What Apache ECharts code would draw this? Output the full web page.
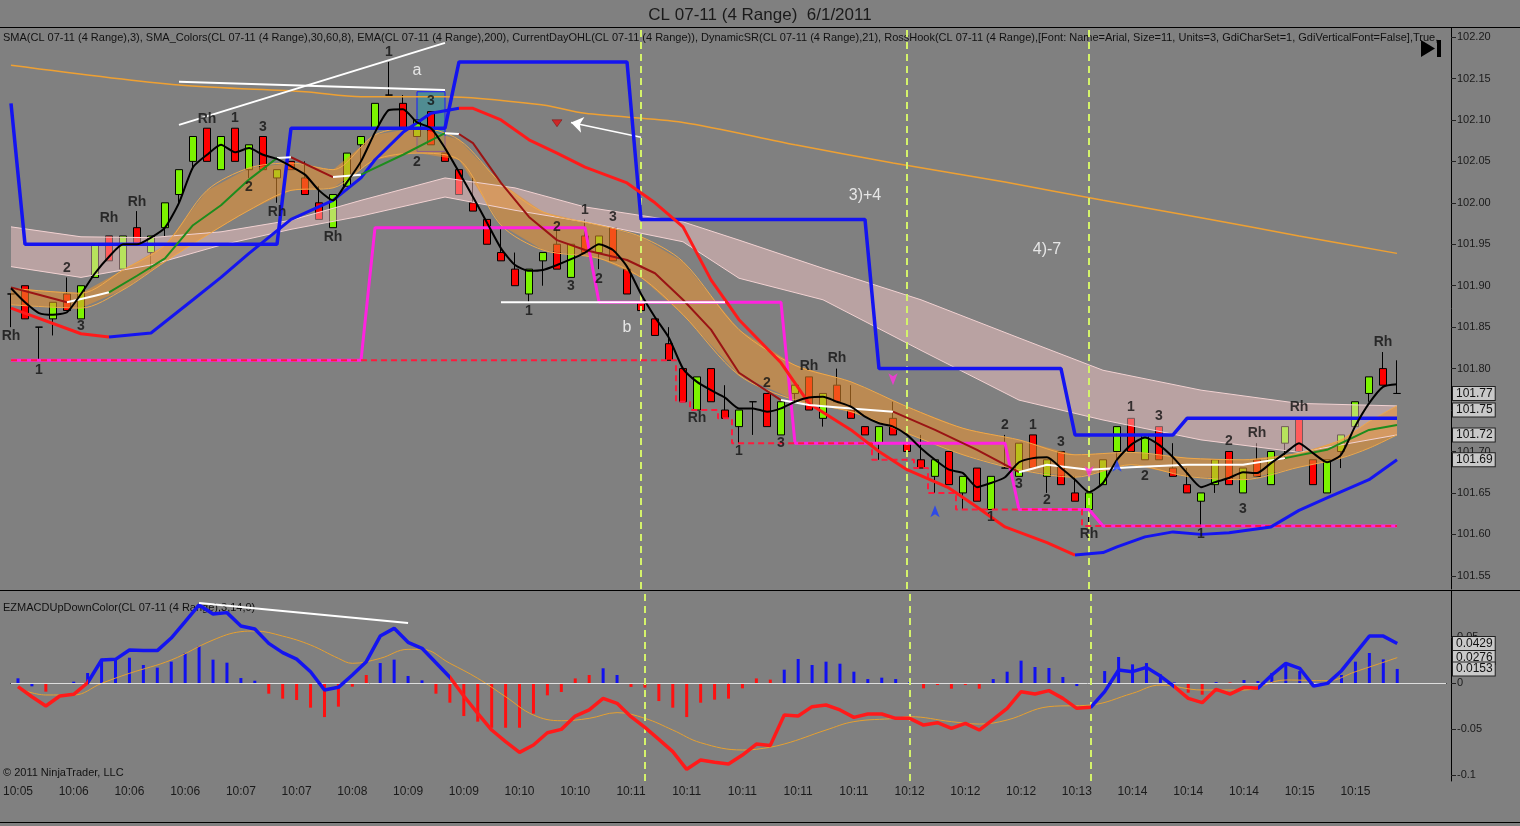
<!DOCTYPE html>
<html>
<head>
<meta charset="utf-8">
<script src="https://cdn.jsdelivr.net/npm/echarts@6/dist/echarts.min.js"></script>
<style>
html,body{margin:0;padding:0;background:#808080;}
#chart{width:1520px;height:826px;}
</style>
</head>
<body>
<div id="chart"></div>
<script>
// tick labels
const timeLabels = ['10:05','10:06','10:06','10:06','10:07','10:07','10:08','10:09','10:09','10:10','10:10','10:11','10:11',
  '10:11','10:11','10:11','10:12','10:12','10:12','10:13','10:14','10:14','10:14','10:15','10:15'];
const priceTicks = [102.20,102.15,102.10,102.05,102.00,101.95,101.90,101.85,101.80,101.75,101.70,101.65,101.60,101.55];
const macdTicks = [0.05,0,-0.05,-0.1];

// 4 range bars
const opens  = [101.89,101.90,101.85,101.86,101.89,101.86,101.91,101.96,101.92,101.97,101.94,101.97,102.01,102.05,102.09,102.04,102.09,102.04,102.08,102.03,
  102.05,102.03,102.00,101.97,102.02,102.07,102.09,102.13,102.12,102.08,102.11,102.06,102.04,102.00,101.98,101.94,101.92,101.89,101.93,101.95,
  101.91,101.96,101.94,101.97,101.92,101.88,101.86,101.83,101.80,101.75,101.80,101.75,101.73,101.76,101.77,101.72,101.77,101.79,101.74,101.78,
  101.75,101.73,101.71,101.74,101.71,101.69,101.67,101.70,101.65,101.68,101.63,101.68,101.67,101.72,101.67,101.70,101.65,101.63,101.66,101.70,
  101.74,101.69,101.73,101.68,101.66,101.64,101.66,101.70,101.65,101.69,101.66,101.71,101.74,101.69,101.65,101.70,101.73,101.77,101.80,101.77];
const closes = [101.89,101.86,101.85,101.88,101.87,101.90,101.95,101.93,101.96,101.95,101.96,102.00,102.04,102.08,102.05,102.08,102.05,102.07,102.04,102.04,
  102.04,102.01,101.98,102.01,102.06,102.08,102.12,102.13,102.09,102.10,102.07,102.05,102.01,101.99,101.95,101.93,101.90,101.92,101.94,101.92,
  101.95,101.94,101.96,101.93,101.89,101.87,101.84,101.81,101.76,101.79,101.76,101.74,101.75,101.76,101.73,101.76,101.78,101.75,101.77,101.76,
  101.74,101.72,101.73,101.72,101.70,101.68,101.69,101.66,101.67,101.64,101.67,101.68,101.71,101.68,101.69,101.66,101.64,101.65,101.69,101.73,
  101.70,101.72,101.69,101.67,101.65,101.65,101.69,101.66,101.68,101.67,101.70,101.73,101.70,101.66,101.69,101.72,101.76,101.79,101.78,101.77];
const lows   = [101.85,101.86,101.81,101.84,101.87,101.86,101.91,101.93,101.92,101.95,101.92,101.96,102.00,102.04,102.05,102.04,102.05,102.03,102.04,102.00,
  102.04,102.01,101.98,101.97,102.02,102.04,102.09,102.13,102.09,102.08,102.07,102.05,102.01,101.99,101.95,101.93,101.90,101.88,101.90,101.92,
  101.91,101.94,101.92,101.93,101.89,101.87,101.84,101.81,101.76,101.75,101.76,101.74,101.71,101.72,101.73,101.72,101.76,101.75,101.73,101.76,
  101.74,101.72,101.69,101.72,101.70,101.68,101.65,101.66,101.63,101.64,101.63,101.68,101.67,101.68,101.65,101.66,101.64,101.61,101.66,101.69,
  101.70,101.69,101.69,101.67,101.65,101.61,101.65,101.66,101.65,101.67,101.66,101.69,101.70,101.66,101.65,101.68,101.73,101.76,101.78,101.77];
const highs  = [101.89,101.90,101.85,101.88,101.91,101.90,101.95,101.96,101.96,101.99,101.96,102.00,102.04,102.08,102.09,102.08,102.09,102.07,102.08,102.04,
  102.05,102.05,102.02,102.01,102.06,102.08,102.12,102.17,102.13,102.10,102.11,102.06,102.04,102.03,101.98,101.97,101.94,101.92,101.94,101.97,
  101.95,101.98,101.96,101.97,101.92,101.88,101.86,101.85,101.80,101.79,101.80,101.78,101.75,101.76,101.77,101.76,101.78,101.79,101.77,101.80,
  101.78,101.73,101.73,101.76,101.71,101.72,101.69,101.70,101.67,101.68,101.67,101.72,101.71,101.72,101.69,101.70,101.67,101.65,101.69,101.73,
  101.74,101.72,101.73,101.71,101.68,101.65,101.69,101.70,101.68,101.71,101.70,101.73,101.74,101.69,101.69,101.72,101.76,101.79,101.82,101.81];

// SMA(3), black
const sma3 = [101.897,101.88,101.867,101.865,101.868,101.89,101.915,101.935,101.95,101.95,101.958,101.97,102.00,102.043,102.058,102.07,102.061,102.066,102.058,102.053,
  102.044,102.034,102.015,102.003,102.025,102.05,102.085,102.112,102.113,102.097,102.09,102.066,102.037,102.007,101.976,101.945,101.925,101.918,101.919,101.925,
  101.932,101.94,101.95,101.943,101.923,101.89,101.862,101.837,101.80,101.784,101.774,101.765,101.752,101.752,101.748,101.752,101.76,101.765,101.766,101.76,
  101.754,101.742,101.734,101.73,101.72,101.704,101.69,101.678,101.674,101.657,101.662,101.669,101.687,101.692,101.693,101.68,101.666,101.651,101.662,101.69,
  101.708,101.717,101.708,101.693,101.674,101.657,101.663,101.668,101.675,101.674,101.686,101.698,101.71,101.698,101.687,101.696,101.73,101.758,101.778,101.781];

// SMA colour line (8): g = rising, b = falling, w = flat (one letter per segment)
const sma8K = [0,2,4,6,7,9,11,13,15,17,19,20,23,25,28,31,32,33,35,37,39,41,44,46,48,50,52,55,57,60,63,66,69,72,74,77,80,84,88,91,94,97,99];
const sma8V = [101.898,101.889,101.88,101.888,101.892,101.912,101.933,101.973,101.997,102.028,102.054,102.055,102.031,102.034,102.058,102.084,102.083,102.072,
  102.024,101.983,101.955,101.943,101.931,101.915,101.883,101.847,101.795,101.762,101.756,101.752,101.748,101.726,101.702,101.675,101.684,101.678,101.681,
  101.684,101.684,101.692,101.702,101.726,101.732];
const sma8State = 'bbwwggggggwbwggwbbbbbbbbbbbwwwbbbwwwwwwggg';

// EMA(200)
const emaK = [0,12,21,25,31,38,41,48,56,63,71,78,85,92,99];
const emaV = [102.166,102.142,102.134,102.128,102.128,102.118,102.108,102.097,102.07,102.048,102.025,102.003,101.982,101.96,101.939];

// SMA_Colors band (30/60)
const oBandK  = [0,5,8,11,14,17,20,23,26,29,32,35,38,42,45,48,52,56,60,64,68,72,76,80,84,88,92,95,97,99];
const oBandUp = [101.897,101.891,101.919,101.949,102.015,102.042,102.048,102.04,102.082,102.091,102.076,102.024,101.989,101.973,101.959,101.929,
  101.847,101.804,101.784,101.754,101.728,101.714,101.696,101.699,101.692,101.69,101.698,101.714,101.736,101.755];
const oBandLo = [101.877,101.873,101.895,101.929,101.961,101.991,102.015,102.018,102.052,102.06,102.052,101.973,101.943,101.933,101.91,101.865,
  101.792,101.762,101.748,101.722,101.696,101.678,101.669,101.684,101.67,101.666,101.681,101.692,101.704,101.72];

// pink envelope
const pBandK  = [0,5,10,15,20,25,31,36,41,48,52,58,65,72,78,85,92,99];
const pBandUp = [101.971,101.959,101.958,101.965,101.979,102.003,102.03,102.018,101.995,101.977,101.955,101.921,101.883,101.837,101.798,101.774,101.758,101.755];
const pBandLo = [101.923,101.91,101.925,101.949,101.968,101.984,102.007,101.991,101.977,101.953,101.909,101.883,101.822,101.762,101.738,101.714,101.699,101.72];

// thick trend line: r = falling, u = rising (one letter per segment)
const trendK = [0,5,7,10,13,15,17,20,23,25,26,28,30,32,33,35,37,39,41,44,46,48,50,52,55,57,60,62,64,67,69,71,74,76,78,79,81,83,85,87,90,92,94,97,99];
const trendV = [101.873,101.842,101.838,101.843,101.883,101.91,101.939,101.98,102.003,102.03,102.052,102.085,102.108,102.114,102.114,102.10,102.076,
  102.06,102.043,102.024,102.00,101.971,101.907,101.859,101.807,101.758,101.726,101.70,101.678,101.656,101.633,101.609,101.59,101.575,101.578,101.585,
  101.597,101.603,101.60,101.602,101.609,101.629,101.644,101.666,101.69];
const trendState = 'rruuuuuuuuuuurrrrrrrrrrrrrrrrrrrruuuuuuuuuuu';

// DynamicSR steps and current day low (bar where the level changes)
const srUpK = [0,1,19,20,31,32,44,45,61,62,75,76,83,84,99];
const srUpV = [102.12,101.95,101.95,102.09,102.09,102.17,102.17,101.98,101.98,101.80,101.80,101.72,101.72,101.74,101.74];
const srLoK = [0,25,26,41,42,55,56,71,72,77,78,99];
const srLoV = [101.81,101.81,101.97,101.97,101.88,101.88,101.71,101.71,101.63,101.63,101.61,101.61];
const dayLowK = [0,48,49,51,52,62,65,66,68,77,99];
const dayLowV = [101.81,101.76,101.75,101.74,101.71,101.69,101.68,101.65,101.63,101.61,101.61];

// RossHook labels
const hookText = ['Rh','1','2','3','Rh','Rh','Rh','1','2','3','Rh','Rh','1','3','2','2','1','3','2','3','1','Rh','1','2','3','Rh','Rh',
  '2','1','3','1','2','3','Rh','1','3','2','2','3','1','Rh','Rh','Rh'];
const hookK = [0,2,4,5,7,9,14,16,17,18,19,23,27,30,29,39,41,43,42,40,37,49,52,54,55,57,59,71,73,72,70,74,75,77,80,82,81,87,88,85,89,92,98];
const hookPrice = [101.839,101.798,101.921,101.851,101.982,102.001,102.101,102.102,102.019,102.091,101.989,101.959,102.182,102.123,102.049,
  101.971,101.991,101.983,101.908,101.90,101.869,101.74,101.701,101.783,101.71,101.803,101.813,101.732,101.732,101.661,101.621,101.641,101.711,
  101.60,101.753,101.743,101.67,101.713,101.631,101.60,101.722,101.753,101.832];
const noteText = ['a','b','3)+4','4)-7'];
const noteK = [29,44,61,74];
const notePrice = [102.16,101.849,102.009,101.943];
const sessionMarks = [45,64,77];
const priceTags = [101.77,101.75,101.72,101.69];
const macdTags = [0.0429,0.0276,0.0153];

// EZMACD
const macdHist = [0.0051,-0.0036,-0.0094,0,0.0014,0.0109,0.0264,0.0257,0.0275,0.0196,0.0167,0.0232,0.0326,0.0402,0.0254,0.0221,0.0054,0.0025,-0.0116,-0.017,
  -0.0185,-0.0268,-0.037,-0.0257,-0.004,0.0087,0.0217,0.0254,0.0076,0.0029,-0.0116,-0.0214,-0.0359,-0.042,-0.0486,-0.0486,-0.0486,-0.0333,-0.0134,-0.0098,
  0.005,0.0087,0.016,0.0087,-0.0043,-0.005,-0.0196,-0.0268,-0.037,-0.0214,-0.0181,-0.017,-0.0058,0.005,0.0037,0.0145,0.0261,0.0196,0.0232,0.021,
  0.0123,0.0043,0.0058,0.0043,0.001,-0.0058,-0.0022,-0.0062,-0.0022,-0.0062,0.0043,0.0123,0.0243,0.0174,0.0163,0.0065,-0.0033,0,0.013,0.0283,
  0.0203,0.0217,0.0094,0.0007,-0.0105,-0.0127,0.001,0.0007,0.0033,0.0022,0.0109,0.0196,0.013,0,0.001,0.0087,0.0232,0.0326,0.0257,0.0153];
const macdHistDir = 'uudduuuuuuuuuuuuuuddddddddu uuuddddddddddddu uddddddddddduuuuuuuuuuddddduuuuuuuuuuuuuudduduuuuuuuuuuuu'.replace(/ /g,'');
const macdLine = [-0.004,-0.0149,-0.025,-0.0141,-0.0123,0.0003,0.025,0.0257,0.0359,0.0352,0.0352,0.0489,0.0667,0.0848,0.075,0.0765,0.062,0.0587,0.0431,0.033,
  0.026,0.0123,-0.0076,-0.0047,0.0087,0.0232,0.051,0.0594,0.0442,0.0377,0.0221,0.0062,-0.0141,-0.033,-0.0511,-0.0638,-0.0754,-0.0674,-0.054,-0.0504,
  -0.0359,-0.0293,-0.0167,-0.0221,-0.0366,-0.0482,-0.0612,-0.0746,-0.0938,-0.0837,-0.0862,-0.088,-0.0783,-0.0663,-0.0678,-0.0348,-0.0359,-0.0257,-0.0239,-0.0293,
  -0.0373,-0.0337,-0.0337,-0.0384,-0.0384,-0.0457,-0.0431,-0.0493,-0.0438,-0.0511,-0.0395,-0.0275,-0.0094,-0.012,-0.0083,-0.0167,-0.0275,-0.0264,-0.0094,0.0141,
  0.0123,0.017,0.0076,-0.004,-0.0167,-0.0214,-0.0069,-0.012,-0.0047,-0.0058,0.0087,0.0214,0.016,-0.0033,-0.0004,0.0134,0.0322,0.051,0.051,0.0429];
const signalK = [0,2,4,6,8,11,14,16,17,19,21,23,24,26,28,29,31,33,35,37,39,41,43,45,47,49,52,53,55,58,60,63,64,67,69,71,74,77,80,82,85,88,91,94,96,99];
const signalV = [-0.0058,-0.013,-0.013,-0.0004,0.0105,0.025,0.0467,0.0558,0.0565,0.051,0.0413,0.0268,0.0214,0.0268,0.0366,0.0366,0.0214,0.0051,-0.0149,
  -0.0348,-0.041,-0.0384,-0.0322,-0.0384,-0.0511,-0.0649,-0.0728,-0.072,-0.0663,-0.0511,-0.042,-0.0384,-0.0366,-0.042,-0.0446,-0.0402,-0.0257,-0.0239,
  -0.0112,-0.0022,-0.0076,-0.0076,0.0033,0.0025,0.0123,0.0276];

const FONT = 'Liberation Sans, Arial, sans-serif';
const RED = '#ff1a1a', BLUE = '#1414f0', WHITE = '#ffffff', GREEN = '#1e8c1e', BROWN = '#9a1414';
const nBands = 103;
const categories = [];
for (let i = 0; i < nBands; i++) {
    categories.push(i % 4 === 0 && timeLabels[i / 4] ? timeLabels[i / 4] : '');
}
const zip = (ks, vs) => ks.map((k, i) => [k, vs[i]]);

function band(ks, up, lo, fill, z) {
    return {
        type: 'custom', xAxisIndex: 0, yAxisIndex: 0, z: z, silent: true, data: [0],
        renderItem: function (params, api) {
            const pts = [];
            for (let i = 0; i < ks.length; i++) pts.push(api.coord([ks[i], up[i]]));
            for (let i = ks.length - 1; i >= 0; i--) pts.push(api.coord([ks[i], lo[i]]));
            return {type: 'polygon', shape: {points: pts}, style: {fill: fill}};
        }
    };
}
function line(data, color, width, z, extra) {
    return Object.assign({
        type: 'line', xAxisIndex: 0, yAxisIndex: 0, data: data, showSymbol: false, symbol: 'none',
        silent: true, z: z, lineStyle: {color: color, width: width}
    }, extra || {});
}
// split a polyline into same-colour runs, sharing the joint points
function colouredRuns(ks, vs, states, colours, width, z) {
    const out = [];
    let start = 0;
    for (let i = 1; i <= states.length; i++) {
        if (i === states.length || states[i] !== states[start]) {
            const pts = [];
            for (let j = start; j <= i; j++) pts.push([ks[j], vs[j]]);
            out.push(line(pts, colours[states[start]], width, z));
            start = i;
        }
    }
    return out;
}
// level held until the bar where it changes
function levelPoints(ks, vs) {
    const pts = [];
    for (let i = 0; i < ks.length; i++) {
        if (i > 0 && ks[i] - 1 > ks[i - 1]) pts.push([ks[i] - 1, vs[i - 1]]);
        pts.push([ks[i], vs[i]]);
    }
    return pts;
}

const series = [];
// bars first, the indicator bands are painted over them
series.push({
    type: 'candlestick', xAxisIndex: 0, yAxisIndex: 0, z: 2, silent: true, barWidth: 8,
    data: opens.map((o, i) => [o, closes[i], lows[i], highs[i]]),
    itemStyle: {color: '#7cf400', color0: '#ff0000', borderColor: '#000', borderColor0: '#000', borderWidth: 1},
    markArea: {
        silent: true,
        itemStyle: {color: 'rgba(40,150,160,0.55)', borderColor: '#1a1aff', borderWidth: 1},
        data: [[{coord: [29, 102.134]}, {coord: [31, 102.062]}]]
    },
    markLine: {
        silent: true, symbol: 'none', label: {show: false},
        lineStyle: {color: '#d4f26a', width: 2, type: [7, 5]},
        data: sessionMarks.map(k => ({xAxis: k}))
    }
});
series.push(band(pBandK, pBandUp, pBandLo, 'rgba(255,205,205,0.45)', 3));
series.push(line(zip(pBandK, pBandUp), '#f2d2d2', 1, 3));
series.push(line(zip(pBandK, pBandLo), '#f2d2d2', 1, 3));
series.push(band(oBandK, oBandUp, oBandLo, 'rgba(235,145,45,0.55)', 3));
series.push(line(zip(oBandK, oBandUp), '#f0a848', 1, 3, {smooth: 0.3}));
series.push(line(zip(oBandK, oBandLo), '#f0a848', 1, 3, {smooth: 0.3}));
series.push(line(zip(emaK, emaV), '#eea032', 1.5, 4, {smooth: 0.3}));
series.push(line(zip(srLoK, srLoV), '#ff22e0', 3, 5));
series.push(line(levelPoints(dayLowK, dayLowV), '#ff1a3c', 2, 5, {step: 'middle', lineStyle: {color: '#ff1a3c', width: 2, type: [6, 4]}}));
series.push(line(zip(srUpK, srUpV), BLUE, 3.5, 5));
colouredRuns(trendK, trendV, trendState, {r: RED, u: BLUE}, 3, 5).forEach(s => series.push(s));
colouredRuns(sma8K, sma8V, sma8State, {g: GREEN, b: BROWN, w: WHITE}, 2, 6).forEach(s => series.push(s));
series.push(line(sma3.map((v, i) => [i, v]), '#000', 2, 7, {smooth: 0.2}));

// hand-drawn lines
series.push(line([[12, 102.094], [31, 102.193]], '#fff', 2, 8));
series.push(line([[12, 102.146], [31, 102.136]], '#fff', 2, 8));
series.push(line([[35, 101.88], [51, 101.88]], '#fff', 2, 8));
series.push({
    type: 'line', xAxisIndex: 0, yAxisIndex: 0, data: [], silent: true, z: 8,
    markLine: {
        silent: true, label: {show: false}, symbolSize: 12,
        lineStyle: {color: '#fff', width: 1.5, type: 'solid'},
        data: [[{coord: [45, 102.079], symbol: 'none'}, {coord: [40, 102.097], symbol: 'arrow'}]]
    }
});
series.push({
    type: 'scatter', xAxisIndex: 0, yAxisIndex: 0, z: 8, silent: true,
    symbol: 'triangle', symbolRotate: 180, symbolSize: [10, 7],
    itemStyle: {color: '#e01010', borderColor: '#600', borderWidth: 0.5},
    data: [[39, 102.096]]
});
series.push({
    type: 'scatter', xAxisIndex: 0, yAxisIndex: 0, z: 8, silent: true,
    symbol: 'arrow', symbolRotate: 180, symbolSize: [7, 12], itemStyle: {color: '#ff30e0'},
    data: [[63, 101.78], [77, 101.668]]
});
series.push({
    type: 'scatter', xAxisIndex: 0, yAxisIndex: 0, z: 8, silent: true,
    symbol: 'arrow', symbolSize: [7, 12], itemStyle: {color: '#1a3cff'},
    data: [[66, 101.635], [79, 101.69]]
});
series.push({
    type: 'scatter', xAxisIndex: 0, yAxisIndex: 0, z: 9, silent: true, symbolSize: 1,
    itemStyle: {color: 'rgba(0,0,0,0)'},
    data: hookText.map((t, i) => [hookK[i], hookPrice[i], t]),
    label: {
        show: true, position: 'inside', fontFamily: FONT, fontSize: 14, fontWeight: 'bold',
        formatter: p => p.value[2],
        color: '#111'
    }
});
series.push({
    type: 'scatter', xAxisIndex: 0, yAxisIndex: 0, z: 9, silent: true, symbolSize: 1,
    itemStyle: {color: 'rgba(0,0,0,0)'},
    data: noteText.map((t, i) => [noteK[i], notePrice[i], t]),
    label: {show: true, position: 'inside', fontFamily: FONT, fontSize: 16, color: '#fff', formatter: p => p.value[2]}
});

const tagLabel = digits => ({
    show: true, position: 'end', distance: 7, formatter: p => Number(p.value).toFixed(digits),
    fontFamily: FONT, fontSize: 12, color: '#111', opacity: 1,
    backgroundColor: '#c9c9c9', borderColor: '#222', borderWidth: 1, padding: [1, 2, 0, 3]
});
series.push({
    type: 'line', xAxisIndex: 0, yAxisIndex: 0, data: [[0, null]], silent: true, z: 10, clip: false, symbol: 'none',
    markLine: {
        silent: true, symbol: 'none', precision: 2,
        lineStyle: {color: 'rgba(0,0,0,0)', width: 0},
        label: tagLabel(2),
        data: priceTags.map(v => ({yAxis: v}))
    }
});

// MACD panel
series.push({
    type: 'bar', xAxisIndex: 1, yAxisIndex: 1, barWidth: 3, silent: true, z: 3,
    data: macdHist.map((v, i) => ({value: v, itemStyle: {color: macdHistDir[i] === 'u' ? '#1010f0' : '#ff1010'}})),
    markLine: {
        silent: true, symbol: 'none', label: {show: false},
        data: [{yAxis: 0, lineStyle: {color: '#dedede', width: 1, type: 'solid'}}]
            .concat(sessionMarks.map(k => ({xAxis: k, lineStyle: {color: '#d4f26a', width: 2, type: [7, 5]}})))
    }
});
series.push({
    type: 'line', xAxisIndex: 1, yAxisIndex: 1, data: zip(signalK, signalV), smooth: 0.4, symbol: 'none', silent: true, z: 4,
    lineStyle: {color: '#e6a030', width: 1}
});
const macdIdx = series.length;
series.push({
    type: 'line', xAxisIndex: 1, yAxisIndex: 1, data: macdLine, symbol: 'none', silent: true, z: 5,
    lineStyle: {width: 3.5}
});
series.push({
    type: 'line', xAxisIndex: 1, yAxisIndex: 1, data: [[13, 0.087], [28, 0.0652]], symbol: 'none', silent: true, z: 6,
    lineStyle: {color: '#fff', width: 2}
});
series.push({
    type: 'line', xAxisIndex: 1, yAxisIndex: 1, data: [[0, null]], silent: true, z: 10, clip: false, symbol: 'none',
    markLine: {
        silent: true, symbol: 'none', precision: 4,
        lineStyle: {color: 'rgba(0,0,0,0)', width: 0},
        label: tagLabel(4),
        data: macdTags.map(v => ({yAxis: v}))
    }
});

const chart = echarts.init(document.getElementById('chart'));
chart.setOption({
    backgroundColor: '#808080',
    animation: false,
    textStyle: {fontFamily: FONT},
    title: {
        text: 'CL 07-11 (4 Range)  6/1/2011', left: 'center', top: 2,
        textStyle: {fontFamily: FONT, fontSize: 17, fontWeight: 'normal', color: '#1a1a1a'}
    },
    grid: [
        {left: 4, top: 28, width: 1442, height: 561},
        {left: 4, top: 591, width: 1442, height: 190}
    ],
    xAxis: [
        {type: 'category', gridIndex: 0, data: categories, axisLine: {show: false}, axisTick: {show: false}, axisLabel: {show: false}},
        {
            type: 'category', gridIndex: 1, data: categories,
            axisLine: {show: true, lineStyle: {color: '#000', width: 1}},
            axisTick: {show: false},
            axisLabel: {interval: 3, color: '#1a1a1a', fontSize: 12, fontFamily: FONT, margin: 5}
        }
    ],
    yAxis: [
        {
            type: 'value', gridIndex: 0, position: 'right', offset: 5,
            min: 101.5341, max: 102.2109, splitLine: {show: false},
            axisLine: {show: true, lineStyle: {color: '#000'}},
            axisTick: {show: true, length: 5, lineStyle: {color: '#222'}, customValues: priceTicks},
            axisLabel: {color: '#1a1a1a', fontSize: 11, fontFamily: FONT, margin: 6, customValues: priceTicks, formatter: v => v.toFixed(2)}
        },
        {
            type: 'value', gridIndex: 1, position: 'right', offset: 5,
            min: -0.1065, max: 0.1, splitLine: {show: false},
            axisLine: {show: true, lineStyle: {color: '#000'}},
            axisTick: {show: true, length: 5, lineStyle: {color: '#222'}, customValues: macdTicks},
            axisLabel: {color: '#1a1a1a', fontSize: 11, fontFamily: FONT, margin: 6, customValues: macdTicks, formatter: v => (v === 0 ? '0' : String(v))}
        }
    ],
    visualMap: [
        {
            type: 'piecewise', show: false, seriesIndex: macdIdx, dimension: 0,
            pieces: [{lt: 5, color: RED}, {gte: 5, lt: 31, color: BLUE}, {gte: 31, lt: 77, color: RED},
                {gte: 77, lt: 82.5, color: BLUE}, {gte: 82.5, lt: 89, color: RED}, {gte: 89, color: BLUE}]
        }
    ],
    graphic: [
        {type: 'line', shape: {x1: 0, y1: 27.5, x2: 1520, y2: 27.5}, style: {stroke: '#000', lineWidth: 1}, silent: true},
        {type: 'line', shape: {x1: 0, y1: 590.5, x2: 1520, y2: 590.5}, style: {stroke: '#000', lineWidth: 1}, silent: true},
        {type: 'line', shape: {x1: 0, y1: 822.5, x2: 1520, y2: 822.5}, style: {stroke: '#000', lineWidth: 1}, silent: true},
        {
            type: 'text', left: 3, top: 32, silent: true,
            style: {
                text: 'SMA(CL 07-11 (4 Range),3), SMA_Colors(CL 07-11 (4 Range),30,60,8), EMA(CL 07-11 (4 Range),200), CurrentDayOHL(CL 07-11 (4 Range)), DynamicSR(CL 07-11 (4 Range),21), RossHook(CL 07-11 (4 Range),[Font: Name=Arial, Size=11, Units=3, GdiCharSet=1, GdiVerticalFont=False],True,',
                fill: '#111', font: '11px ' + FONT
            }
        },
        {type: 'text', left: 3, top: 602, silent: true, style: {text: 'EZMACDUpDownColor(CL 07-11 (4 Range),3,14,9)', fill: '#111', font: '11px ' + FONT}},
        {type: 'text', left: 3, top: 767, silent: true, style: {text: '\u00a9 2011 NinjaTrader, LLC', fill: '#111', font: '11px ' + FONT}},
        {type: 'polygon', silent: true, shape: {points: [[1421, 40], [1435, 48.5], [1421, 57]]}, style: {fill: '#000'}},
        {type: 'rect', silent: true, shape: {x: 1437, y: 40, width: 4, height: 17}, style: {fill: '#000'}}
    ],
    series: series
});
</script>
</body>
</html>
